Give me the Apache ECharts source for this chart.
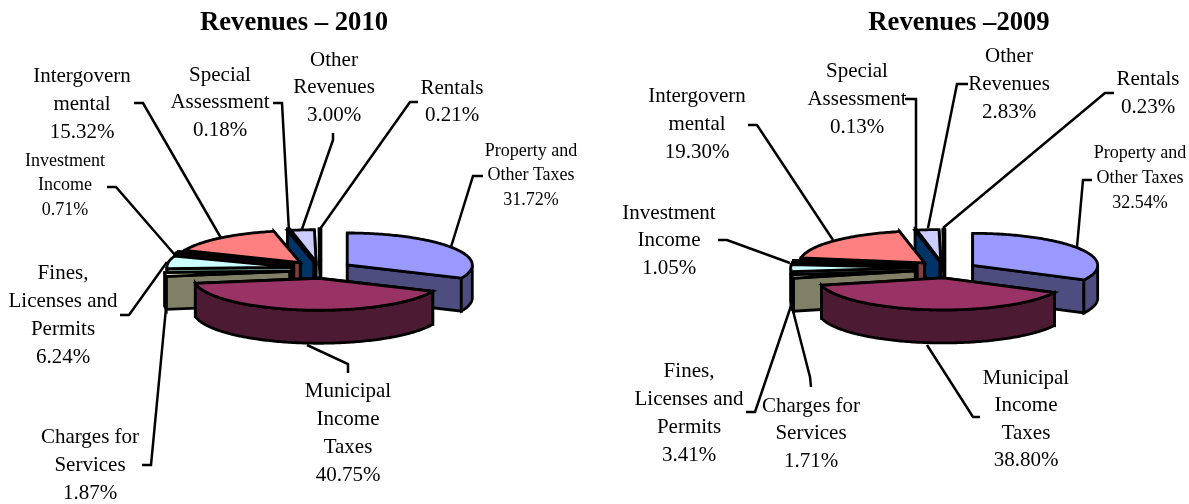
<!DOCTYPE html>
<html>
<head>
<meta charset="utf-8">
<style>
html, body { margin: 0; padding: 0; background: #fff; }
#main { width: 1189px; height: 504px; }
</style>
<script src="https://cdn.jsdelivr.net/npm/echarts@6/dist/echarts.min.js"></script>
</head>
<body>
<div id="main"></div>
<script>
// clockwise from 12 o'clock
var categories = ['Property and\nOther Taxes', 'Municipal\nIncome\nTaxes', 'Charges for\nServices', 'Fines,\nLicenses and\nPermits', 'Investment\nIncome', 'Intergovern\nmental', 'Special\nAssessment', 'Other\nRevenues', 'Rentals'];
var values2010 = [31.72, 40.75, 1.87, 6.24, 0.71, 15.32, 0.18, 3.00, 0.21];
var values2009 = [32.54, 38.80, 1.71, 3.41, 1.05, 19.30, 0.13, 2.83, 0.23];

var topColors = ['#9999FF', '#993366', '#FFFFCC', '#CCFFFF', '#660066', '#FF8080', '#0066CC', '#CCCCFF', '#000080'];
var wallColors = ['#4D4D80', '#4D1A33', '#808066', '#668080', '#330033', '#804040', '#003366', '#666680', '#000040'];

// back slices get painted first
var paintOrder = [8, 7, 6, 5, 4, 3, 2, 0, 1];

var FONT = '"Liberation Serif", "Times New Roman", serif';
var RX = 125, RY = 32, DEPTH = 33;

// nudge: small per slice correction on top of the common explode
var pie2010 = {
    cx: 323, cy: 269, explode: 0.26,
    nudge: [[-3, 0.5], [0, 1], [-1, 1.5], [1, -0.5], [1, -2], [-2, 0], [-2.5, 1], [-3.5, 1], [-2, 0]]
};
var pie2009 = {
    cx: 947, cy: 269.5, explode: 0.25,
    nudge: [[-1, 0], [0, 0.5], [-1, 0], [0, -2], [1, -3], [0, -1], [-1, 0], [-3, 0], [-2, 0]]
};

// label: [center x, y of first line, font size, line height]
var labels2010 = [[531, 151, 18, 24.5], [348, 391, 21, 28], [90, 437, 21, 28], [63, 273, 21, 28], [65, 161, 18, 24.5], [82, 76, 21, 28], [220, 75, 21, 27.5], [334, 60, 21, 27.5], [452, 88, 21, 27]];
var labels2009 = [[1140, 153, 18, 25], [1026, 378, 21, 27.5], [811, 406, 21, 27.5], [689, 371, 21, 28], [669, 213, 21, 27.5], [697, 96, 21, 28], [857, 71, 21, 28], [1009, 56, 21, 28], [1148, 79, 21, 28]];

var leaders2010 = [
    [[483, 176], [473, 176], [451, 247]],
    [[348, 373], [348, 364], [307, 345]],
    [[142, 465], [151, 465], [166, 308]],
    [[120, 315], [129, 315], [167, 262]],
    [[107, 187], [116, 187], [175, 255]],
    [[134, 103], [143, 103], [221, 238]],
    [[273, 103], [282, 103], [289, 232]],
    [[333, 133], [333, 140], [302, 229]],
    [[418, 102], [410, 102], [320, 229]]
];
var leaders2009 = [
    [[1092, 180], [1083, 180], [1077, 247]],
    [[980, 417], [973, 417], [927, 345]],
    [[811, 387], [810, 377], [792, 307]],
    [[746, 412], [755, 412], [792, 303]],
    [[718, 240], [727, 240], [790, 263]],
    [[748, 125], [757, 125], [833, 240]],
    [[905, 99], [916, 99], [916, 230]],
    [[968, 84], [957, 84], [928, 228]],
    [[1114, 93], [1105, 93], [943, 228]]
];

function rad(deg) {
    return deg * Math.PI / 180;
}

function rimPoint(ax, ay, deg, dy) {
    return [ax + RX * Math.sin(rad(deg)), ay - RY * Math.cos(rad(deg)) + dy];
}

function arcPoints(ax, ay, from, to, dy) {
    var pts = [];
    var n = Math.max(1, Math.ceil(to - from));
    for (var i = 0; i <= n; i++) {
        pts.push(rimPoint(ax, ay, from + (to - from) * i / n, dy));
    }
    return pts;
}

function face(points, fill) {
    return {
        type: 'polygon',
        shape: { points: points },
        style: { fill: fill, stroke: '#000', lineWidth: 2.8, lineJoin: 'miter' }
    };
}

function radialWall(ax, ay, deg, fill) {
    var rim = rimPoint(ax, ay, deg, 0);
    return face([[ax, ay], rim, [rim[0], rim[1] + DEPTH], [ax, ay + DEPTH]], fill);
}

// one exploded slice: walls first, top last
function pieSeries(values, pie) {
    var total = values.reduce(function(a, b) { return a + b; }, 0);
    var starts = [];
    var sum = 0;
    values.forEach(function(v) {
        starts.push(sum / total * 360);
        sum += v;
    });

    return {
        type: 'custom',
        coordinateSystem: 'none',
        silent: true,
        z: 3,
        data: paintOrder.map(function(i) { return [i, values[i]]; }),
        renderItem: function(params, api) {
            var i = api.value(0);
            var from = starts[i];
            var to = from + api.value(1) / total * 360;
            var mid = (from + to) / 2;
            var ax = pie.cx + pie.explode * RX * Math.sin(rad(mid)) + pie.nudge[i][0];
            var ay = pie.cy - pie.explode * RY * Math.cos(rad(mid)) + pie.nudge[i][1];
            var children = [];

            // the wall facing away goes down first
            var startWall = radialWall(ax, ay, from, wallColors[i]);
            var endWall = radialWall(ax, ay, to, wallColors[i]);
            if (from > 180) {
                children.push(endWall, startWall);
            } else {
                children.push(startWall, endWall);
            }

            var a = Math.max(from, 90);
            var b = Math.min(to, 270);
            if (b > a) {
                var outer = arcPoints(ax, ay, a, b, 0).concat(arcPoints(ax, ay, a, b, DEPTH).reverse());
                children.push(face(outer, wallColors[i]));
            }

            children.push(face([[ax, ay]].concat(arcPoints(ax, ay, from, to, 0)), topColors[i]));
            return { type: 'group', children: children };
        }
    };
}

// leader lines and the text round one pie
function labelSeries(values, labels, leaders) {
    return {
        type: 'custom',
        coordinateSystem: 'none',
        silent: true,
        z: 2,
        data: values.map(function(v, i) { return [i, v]; }),
        renderItem: function(params, api) {
            var i = api.value(0);
            var pos = labels[i];
            return {
                type: 'group',
                children: [{
                    type: 'polyline',
                    shape: { points: leaders[i] },
                    style: { fill: 'none', stroke: '#000', lineWidth: 2.5 }
                }, {
                    type: 'text',
                    style: {
                        x: pos[0],
                        y: pos[1] - pos[3] / 2,
                        text: categories[i] + '\n' + api.value(1).toFixed(2) + '%',
                        font: pos[2] + 'px ' + FONT,
                        lineHeight: pos[3],
                        fill: '#000',
                        align: 'center',
                        verticalAlign: 'top'
                    }
                }]
            };
        }
    };
}

function titleOption(text, x) {
    return {
        text: text,
        left: x - 5,
        top: 5,
        textAlign: 'center',
        textStyle: { fontFamily: FONT, fontSize: 26.67, fontWeight: 'bold', color: '#000' }
    };
}

var myChart = echarts.init(document.getElementById('main'));
myChart.setOption({
    animation: false,
    backgroundColor: '#fff',
    title: [titleOption('Revenues – 2010', 294), titleOption('Revenues –2009', 959)],
    series: [
        labelSeries(values2010, labels2010, leaders2010),
        pieSeries(values2010, pie2010),
        labelSeries(values2009, labels2009, leaders2009),
        pieSeries(values2009, pie2009)
    ]
});
</script>
</body>
</html>
